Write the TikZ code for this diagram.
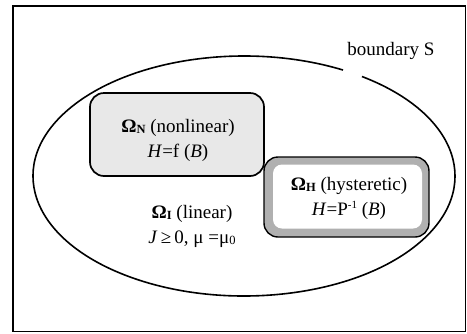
\documentclass[tikz,border=0pt]{standalone}
\usepackage{fontspec}
\setmainfont{Liberation Serif}
\newcommand\lowsub[1]{\raisebox{-1.5pt}{\fontsize{12.5}{12.5}\selectfont #1}}
\newcommand\upsup[1]{\raisebox{6.5pt}{\fontsize{11}{11}\selectfont #1}}
\begin{document}
\begin{tikzpicture}[x=1pt,y=-1pt,
  lbl/.style={align=center,font=\fontsize{19}{25}\selectfont,inner sep=0pt},
  nlbox/.style={draw,line width=1.7pt,rounded corners=14pt,fill=gray!18,minimum width=174pt,minimum height=83pt,inner sep=0pt},
  hyouter/.style={draw,line width=1.4pt,rounded corners=14pt,fill=gray!62,minimum width=165pt,minimum height=80pt,inner sep=0pt},
  hyinner/.style={fill=white,rounded corners=9pt,minimum width=149pt,minimum height=64pt,inner sep=0pt}]
\useasboundingbox (0,0) rectangle (467,333);
\draw[line width=1.8pt] (13,6) rectangle (465.5,331.5);
\coordinate (c) at (244,176);
\draw[line width=1.6pt] (c) ++(-56:211 and 120) arc[start angle=-56,end angle=298,x radius=211,y radius=120];
\node[nlbox] (nl) at (177,134.5) {};
\node[hyouter] (hyo) at (346.5,197) {};
\node[hyinner] (hyi) at (347.5,196.5) {};
\node[lbl] (tnl) at (178,140) {\textbf{Ω\lowsub{N}} (nonlinear)\\\textit{H}=f (\textit{B})};
\node[lbl] (thy) at (349,198) {\textbf{Ω\lowsub{H}} (hysteretic)\\\textit{H}=P\upsup{-1} (\textit{B})};
\node[lbl] (tli) at (192,226) {\textbf{Ω\lowsub{I}} (linear)\\\textit{J}\,≥\,0, μ =μ\lowsub{0}};
\node[lbl] (bs) at (391,51) {boundary S};
\end{tikzpicture}
\end{document}
